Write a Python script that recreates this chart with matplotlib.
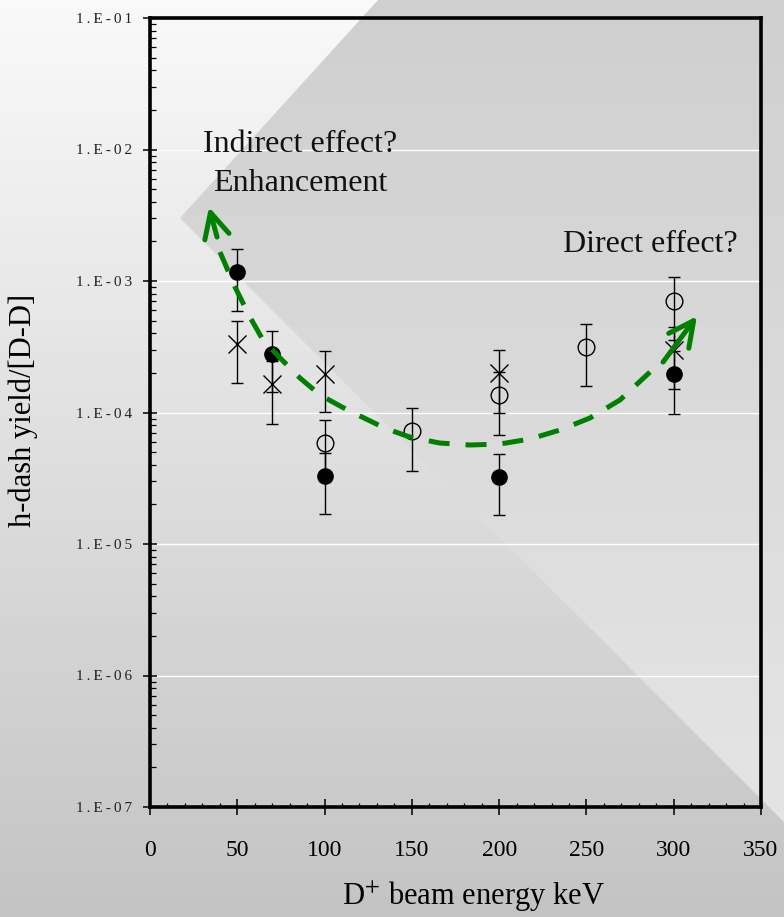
import numpy as np
import matplotlib
matplotlib.use("Agg")
import matplotlib.pyplot as plt
from matplotlib.patches import Polygon
from matplotlib.ticker import MultipleLocator, LogLocator, NullFormatter

plt.rcParams['font.family'] = ['Liberation Serif', 'DejaVu Serif']
plt.rcParams['mathtext.fontset'] = 'stix'

# data (D+ energy in keV, yield ratio, symmetric error)
filled_x = [50, 70, 100, 200, 300]
filled_y = [1.17e-3, 2.8e-4, 3.3e-5, 3.25e-5, 1.96e-4]
filled_err = [5.8e-4, 1.37e-4, 1.6e-5, 1.6e-5, 9.8e-5]

open_x = [100, 150, 200, 250, 300]
open_y = [5.9e-5, 7.2e-5, 1.36e-4, 3.15e-4, 7.1e-4]
open_err = [2.9e-5, 3.6e-5, 6.8e-5, 1.57e-4, 3.55e-4]

cross_x = [50, 70, 100, 200, 300]
cross_y = [3.3e-4, 1.65e-4, 1.96e-4, 2.0e-4, 3.0e-4]
cross_err = [1.63e-4, 8.3e-5, 9.5e-5, 1.0e-4, 1.5e-4]

# hand drawn trend (green dashed), with arrow tips at both ends
curve_x = [40.1, 48.7, 57.3, 64.7, 74.5, 85.9, 97.4, 110, 120.3, 134.6, 148.9,
           166, 183.3, 200.5, 217.7, 234.9, 252, 269.2, 286.4]
curve_y = [1.66e-3, 9.0e-4, 5.3e-4, 3.56e-4, 2.6e-4, 1.83e-4, 1.36e-4, 1.10e-4,
           9.4e-5, 7.6e-5, 6.5e-5, 5.86e-5, 5.66e-5, 5.76e-5, 6.29e-5, 7.36e-5,
           9.08e-5, 1.245e-4, 2.03e-4]
arrow_start = [(38.4, 2.16e-3), (33.8, 3.65e-3)]
arrow_end = [(293.9, 2.42e-4), (313.3, 5.4e-4)]

ytick_vals = [1e-7, 1e-6, 1e-5, 1e-4, 1e-3, 1e-2, 1e-1]
ytick_labels = ['1.E-07', '1.E-06', '1.E-05', '1.E-04', '1.E-03', '1.E-02', '1.E-01']
xtick_vals = [0, 50, 100, 150, 200, 250, 300, 350]

W, H = 784, 917
fig = plt.figure(figsize=(W / 100, H / 100), dpi=100)

# slide style background: vertical gradient plus a chevron shaped band
bg = fig.add_axes([0, 0, 1, 1], zorder=-10)
bg.axis('off')
outer = np.linspace(0.975, 0.765, 256).reshape(-1, 1)
bg.imshow(outer, cmap='gray', vmin=0, vmax=1, extent=[0, W, H, 0], aspect='auto')
inner = np.linspace(0.81, 0.905, 256).reshape(-1, 1)
im = bg.imshow(inner, cmap='gray', vmin=0, vmax=1, extent=[0, W, H, 0], aspect='auto')
band = Polygon([(378, 0), (180, 218), (784, 822), (784, 0)], closed=True,
               transform=bg.transData)
im.set_clip_path(band)
bg.set_xlim(0, W)
bg.set_ylim(H, 0)

ax = fig.add_axes([150 / W, 1 - 807 / H, 611 / W, 789 / H])
ax.set_facecolor('none')
ax.set_yscale('log')
ax.set_xlim(0, 350)
ax.set_ylim(1e-7, 1e-1)

ax.set_yticks(ytick_vals, ['\u2009'.join(s) for s in ytick_labels])
ax.yaxis.set_minor_locator(LogLocator(base=10, subs=np.arange(2, 10), numticks=20))
ax.yaxis.set_minor_formatter(NullFormatter())
ax.set_xticks(xtick_vals)
ax.xaxis.set_minor_locator(MultipleLocator(10))

ax.grid(True, which='major', axis='y', color='white', lw=1.0)
ax.set_axisbelow(True)

for s in ax.spines.values():
    s.set_linewidth(2.6)
    s.set_color('black')

ax.tick_params(axis='y', which='major', direction='inout', length=9.5, width=1.1,
               labelsize=11, pad=8, labelcolor='#222222')
ax.tick_params(axis='y', which='minor', direction='in', length=4, width=0.9)
ax.tick_params(axis='x', which='major', direction='inout', length=11.5, width=1.1,
               labelsize=17, pad=18)
ax.tick_params(axis='x', which='minor', direction='in', length=3, width=0.9)

eb = dict(ecolor='black', elinewidth=1.0, capsize=4, capthick=1.0, ls='none')
ax.errorbar(filled_x, filled_y, yerr=filled_err, fmt='o', ms=11, mfc='black',
            mec='black', zorder=3, **eb)
ax.errorbar(open_x, open_y, yerr=open_err, fmt='o', ms=12, mfc='none',
            mec='black', mew=1.0, zorder=3, **eb)
ax.errorbar(cross_x, cross_y, yerr=cross_err, fmt='x', ms=13, mec='black',
            mew=1.0, zorder=3, **eb)

green = '#008000'
ax.plot(curve_x, curve_y, color=green, lw=3.6, ls=(0, (4.2, 3.2)),
        solid_capstyle='butt', dash_capstyle='butt', zorder=5)
for tail, tip in (arrow_start, arrow_end):
    ax.annotate('', xy=tip, xytext=tail,
                arrowprops=dict(arrowstyle='->,head_length=0.9,head_width=0.45',
                                color=green, lw=3.6, mutation_scale=20,
                                shrinkA=0, shrinkB=0), zorder=5)

ax.text(86, 9.57e-3, 'Indirect effect?', fontsize=23, ha='center', va='baseline',
        color='#111111')
ax.text(86, 4.83e-3, 'Enhancement', fontsize=23, ha='center', va='baseline',
        color='#111111')
ax.text(286.4, 1.66e-3, 'Direct effect?', fontsize=23, ha='center', va='baseline',
        color='#111111')

ax.set_xlabel(r'D$^{+}$ beam energy keV', fontsize=22)
ax.xaxis.set_label_coords(0.53, -0.092)
ax.set_ylabel('h-dash yield/[D-D]', fontsize=22)
ax.yaxis.set_label_coords(-0.183, 0.503)

fig.savefig('out.png', dpi=100)
